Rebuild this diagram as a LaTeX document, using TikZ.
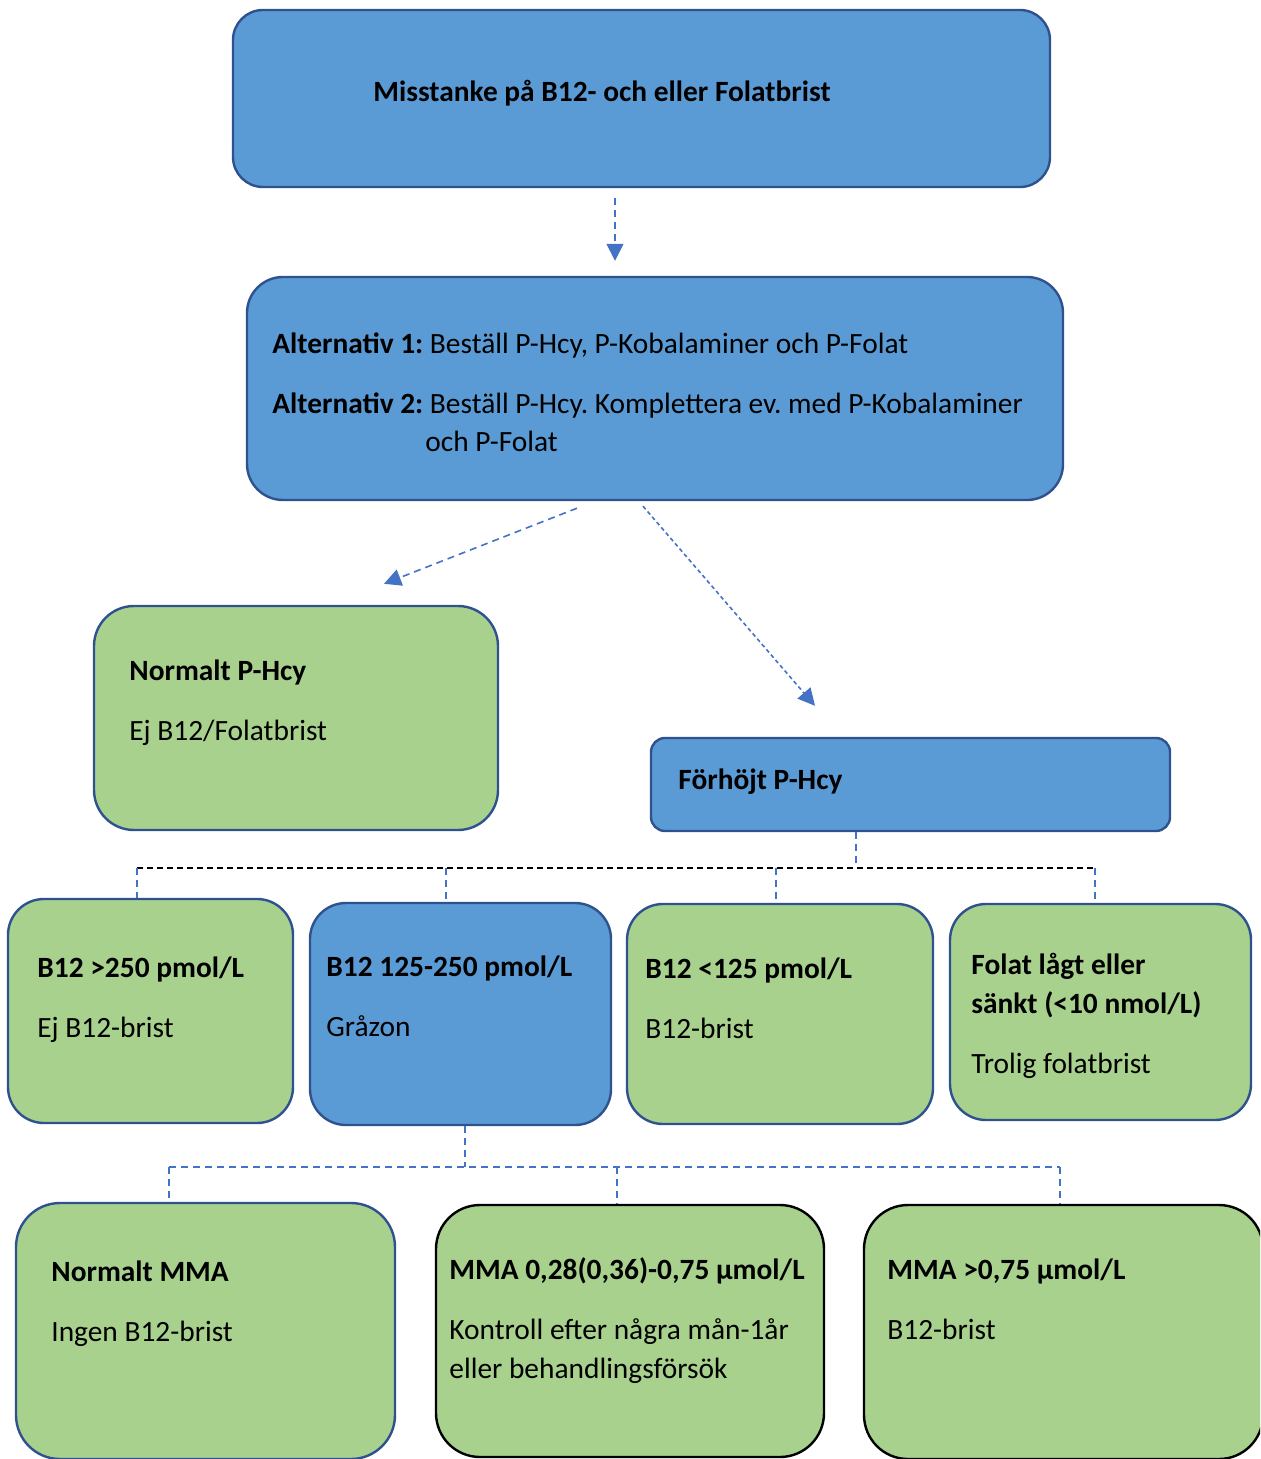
\documentclass[tikz,border=0pt]{standalone}
\usepackage{fontspec}
\setmainfont{Carlito}
\usetikzlibrary{positioning,arrows.meta,calc,fit}
\definecolor{boxblue}{RGB}{91,155,213}
\definecolor{boxgreen}{RGB}{169,209,142}
\definecolor{edgeblue}{RGB}{47,82,143}
\definecolor{linkblue}{RGB}{68,114,196}
\frenchspacing

\begin{document}
\begin{tikzpicture}[x=0.5pt,y=-0.5pt,
  font=\fontsize{14.7}{17}\selectfont,
  box/.style={draw, line width=1.2pt, inner sep=0pt, rounded corners=#1},
  box/.default=15pt,
  bluebox/.style={box=#1, draw=edgeblue, fill=boxblue},
  greenbox/.style={box=#1, draw=edgeblue, fill=boxgreen},
  blackbox/.style={box=#1, draw=black, fill=boxgreen},
  txt/.style={anchor=base west, inner sep=0pt},
  head/.style={txt, font=\fontsize{14.7}{17}\selectfont\bfseries},
  link/.style={draw=linkblue, line width=0.8pt, dash pattern=on 3.5pt off 2.5pt,
    -{Triangle[length=8.5pt,width=8.5pt]}},
  fine link/.style={link, dash pattern=on 2pt off 1.5pt},
  tree/.style={draw=linkblue, line width=0.8pt, dash pattern=on 3.5pt off 2.5pt},
  tree black/.style={draw=black, line width=0.9pt, dash pattern=on 3pt off 2pt}]
  \clip (0,0) rectangle (1260,1459);

  % boxes
  \node[bluebox=15pt, fit={(233,10) (1050,187)}] (susp) {};
  \node[bluebox=18pt, fit={(247,277) (1063,500)}] (alt) {};
  \node[greenbox=20pt, fit={(94,606) (498,830)}] (normal) {};
  \node[bluebox=7pt, fit={(651,738) (1170,831)}] (high) {};
  \node[greenbox=18pt, fit={(8,899) (293,1123)}] (bhigh) {};
  \node[bluebox=18pt, fit={(310,903) (611,1125)}] (bgrey) {};
  \node[greenbox=18pt, fit={(627,904) (933,1124)}] (blow) {};
  \node[greenbox=18pt, fit={(950,904) (1251,1120)}] (folat) {};
  \node[greenbox=22pt, fit={(16,1203) (395,1459)}] (mmanorm) {};
  \node[blackbox=22pt, fit={(436,1205) (824,1457)}] (mmamid) {};
  \node[blackbox=22pt, fit={(864,1205) (1263,1459)}] (mmahigh) {};

  % texts
  \node[head] (suspA) at (373,102) {Misstanke på B12- och eller Folatbrist};
  \node[txt] (altA) at (272,354) {\textbf{Alternativ 1:} Beställ P-Hcy, P-Kobalaminer och P-Folat};
  \node[txt] (altB) at (272,414) {\textbf{Alternativ 2:} Beställ P-Hcy. Komplettera ev. med P-Kobalaminer};
  \node[txt] (altC) at (425,452) {och P-Folat};
  \node[head] (normalA) at (129,680) {Normalt P-Hcy};
  \node[txt] (normalB) at (129,740) {Ej B12/Folatbrist};
  \node[head] (highA) at (678,789) {Förhöjt P-Hcy};
  \node[head] (bhighA) at (37,977) {B12 >250 pmol/L};
  \node[txt] (bhighB) at (37,1037) {Ej B12-brist};
  \node[head] (bgreyA) at (326,976) {B12 125-250 pmol/L};
  \node[txt] (bgreyB) at (326,1036) {Gråzon};
  \node[head] (blowA) at (645,978) {B12 <125 pmol/L};
  \node[txt] (blowB) at (645,1038) {B12-brist};
  \node[head] (folatA) at (971,974) {Folat lågt eller};
  \node[head] (folatB) at (971,1013) {sänkt (<10 nmol/L)};
  \node[txt] (folatC) at (971,1073) {Trolig folatbrist};
  \node[head] (mmanormA) at (51,1281) {Normalt MMA};
  \node[txt] (mmanormB) at (51,1341) {Ingen B12-brist};
  \node[head] (mmamidA) at (449,1279) {MMA 0,28(0,36)-0,75 µmol/L};
  \node[txt] (mmamidB) at (449,1339) {Kontroll efter några mån-1år};
  \node[txt] (mmamidC) at (449,1378) {eller behandlingsförsök};
  \node[head] (mmahighA) at (887,1279) {MMA >0,75 µmol/L};
  \node[txt] (mmahighB) at (887,1339) {B12-brist};

  % arrows
  \draw[link] ([shift={(-26.5,10)}]susp.south) -- ([shift={(-40,-15)}]alt.north);
  \draw[link] ([shift={(-78,7)}]alt.south) -- ([shift={(88,-21)}]normal.north);
  \draw[fine link] ([shift={(-12,5)}]alt.south) -- ([shift={(-95.5,-31)}]high.north);

  % first split
  \coordinate (hubA) at ([shift={(-54.5,36)}]high.south);
  \coordinate (dA1) at ([shift={(-13.5,0)}]bhigh.north);
  \coordinate (dA2) at ([shift={(-14.5,0)}]bgrey.north);
  \coordinate (dA3) at ([shift={(-4,0)}]blow.north);
  \coordinate (dA4) at ([shift={(-5.5,0)}]folat.north);
  \draw[tree] (hubA |- high.south) -- (hubA);
  \draw[tree black] (dA1 |- hubA) -- (dA4 |- hubA);
  \foreach \d in {dA1,dA2,dA3,dA4}
    \draw[tree] (\d |- hubA) -- (\d);

  % second split
  \coordinate (hubB) at ([shift={(4.5,41)}]bgrey.south);
  \coordinate (dB1) at ([shift={(-36.5,0)}]mmanorm.north);
  \coordinate (dB2) at ([shift={(-13,0)}]mmamid.north);
  \coordinate (dB3) at ([shift={(-3.5,0)}]mmahigh.north);
  \draw[tree] (hubB |- bgrey.south) -- (hubB);
  \draw[tree] (dB1 |- hubB) -- (dB3 |- hubB);
  \foreach \d in {dB1,dB2,dB3}
    \draw[tree] (\d |- hubB) -- (\d);
\end{tikzpicture}
\end{document}
